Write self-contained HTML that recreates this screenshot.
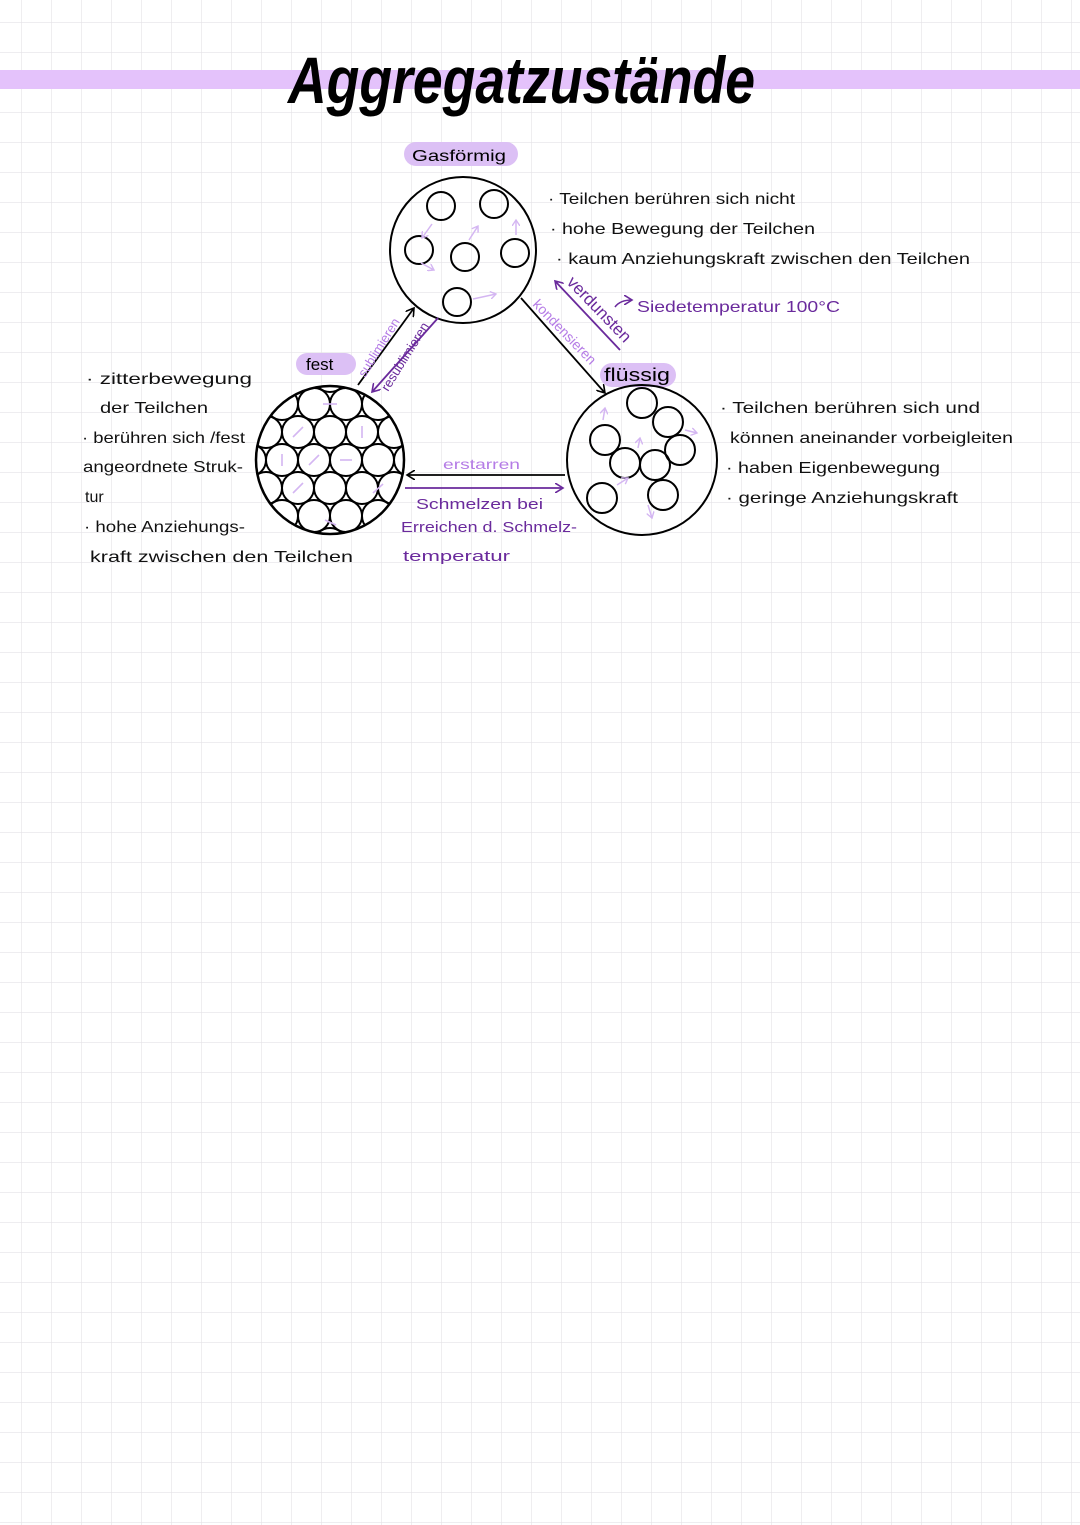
<!DOCTYPE html>
<html><head><meta charset="utf-8"><style>
html,body{margin:0;padding:0;background:#fff}
svg{display:block}
text{font-family:"Liberation Sans",sans-serif}
</style></head><body>
<svg width="1080" height="1525" viewBox="0 0 1080 1525" xmlns="http://www.w3.org/2000/svg">
<defs>
<pattern id="g" x="21" y="22" width="30" height="30" patternUnits="userSpaceOnUse">
<path d="M0 0H30M0 0V30" stroke="#e4e2e6" stroke-width="1.2" fill="none"/>
</pattern>
<marker id="ab" markerWidth="10" markerHeight="10" refX="8" refY="5" orient="auto" markerUnits="userSpaceOnUse"><path d="M0 0L8 5L0 10" fill="none" stroke="#000" stroke-width="1.6"/></marker>
<marker id="ap" markerWidth="10" markerHeight="10" refX="8" refY="5" orient="auto" markerUnits="userSpaceOnUse"><path d="M0 0L8 5L0 10" fill="none" stroke="#6a2a9c" stroke-width="1.6"/></marker>
<marker id="al" markerWidth="8" markerHeight="8" refX="6" refY="4" orient="auto" markerUnits="userSpaceOnUse"><path d="M0 0L6 4L0 8" fill="none" stroke="#d4b6f2" stroke-width="1.4"/></marker>
<clipPath id="cs"><circle cx="330" cy="460" r="74"/></clipPath>
</defs>
<rect width="1080" height="1525" fill="url(#g)"/>
<rect x="0" y="70" width="1080" height="19" fill="#e4c2fb"/>
<text x="288" y="103" font-family="Liberation Serif" font-style="italic" font-weight="bold" font-size="66" textLength="467" lengthAdjust="spacingAndGlyphs">Aggregatzustände</text>

<rect x="404" y="142" width="114" height="24" rx="12" fill="#dcc0f5"/>
<text x="412" y="161" font-size="16" textLength="94" lengthAdjust="spacingAndGlyphs">Gasförmig</text>
<rect x="296" y="353" width="60" height="22" rx="11" fill="#dcc0f5"/>
<text x="306" y="370" font-size="17">fest</text>
<rect x="600" y="363" width="76" height="24" rx="12" fill="#dcc0f5"/>
<text x="604" y="381" font-size="18" textLength="66" lengthAdjust="spacingAndGlyphs">flüssig</text>

<g fill="none" stroke="#000" stroke-width="2">
<circle cx="463" cy="250" r="73"/>
<circle cx="441" cy="206" r="14"/><circle cx="494" cy="204" r="14"/>
<circle cx="419" cy="250" r="14"/><circle cx="465" cy="257" r="14"/>
<circle cx="515" cy="253" r="14"/><circle cx="457" cy="302" r="14"/>
</g>
<g stroke="#d4b6f2" stroke-width="1.5" fill="none" marker-end="url(#al)">
<line x1="432" y1="224" x2="422" y2="238"/><line x1="469" y1="240" x2="478" y2="226"/>
<line x1="516" y1="235" x2="516" y2="220"/><line x1="421" y1="263" x2="434" y2="270"/>
<line x1="473" y1="299" x2="496" y2="294"/>
</g>

<circle cx="330" cy="460" r="74" fill="#fff"/>
<g clip-path="url(#cs)" fill="#fff" stroke="#000" stroke-width="2">
<circle cx="266" cy="376" r="16"/><circle cx="298" cy="376" r="16"/><circle cx="330" cy="376" r="16"/><circle cx="362" cy="376" r="16"/><circle cx="394" cy="376" r="16"/>
<circle cx="250" cy="404" r="16"/><circle cx="282" cy="404" r="16"/><circle cx="314" cy="404" r="16"/><circle cx="346" cy="404" r="16"/><circle cx="378" cy="404" r="16"/><circle cx="410" cy="404" r="16"/>
<circle cx="266" cy="432" r="16"/><circle cx="298" cy="432" r="16"/><circle cx="330" cy="432" r="16"/><circle cx="362" cy="432" r="16"/><circle cx="394" cy="432" r="16"/>
<circle cx="250" cy="460" r="16"/><circle cx="282" cy="460" r="16"/><circle cx="314" cy="460" r="16"/><circle cx="346" cy="460" r="16"/><circle cx="378" cy="460" r="16"/><circle cx="410" cy="460" r="16"/>
<circle cx="266" cy="488" r="16"/><circle cx="298" cy="488" r="16"/><circle cx="330" cy="488" r="16"/><circle cx="362" cy="488" r="16"/><circle cx="394" cy="488" r="16"/>
<circle cx="250" cy="516" r="16"/><circle cx="282" cy="516" r="16"/><circle cx="314" cy="516" r="16"/><circle cx="346" cy="516" r="16"/><circle cx="378" cy="516" r="16"/><circle cx="410" cy="516" r="16"/>
<circle cx="266" cy="544" r="16"/><circle cx="298" cy="544" r="16"/><circle cx="330" cy="544" r="16"/><circle cx="362" cy="544" r="16"/><circle cx="394" cy="544" r="16"/>
</g>
<g stroke="#d4b6f2" stroke-width="1.6">
<line x1="293" y1="437" x2="303" y2="427"/><line x1="323" y1="404" x2="337" y2="404"/><line x1="362" y1="426" x2="362" y2="438"/>
<line x1="309" y1="465" x2="319" y2="455"/><line x1="282" y1="454" x2="282" y2="466"/><line x1="373" y1="493" x2="383" y2="484"/>
<line x1="293" y1="493" x2="303" y2="483"/><line x1="340" y1="460" x2="352" y2="460"/><line x1="325" y1="520" x2="336" y2="525"/>
</g>
<circle cx="330" cy="460" r="74" fill="none" stroke="#000" stroke-width="2.5"/>

<g fill="none" stroke="#000" stroke-width="2">
<circle cx="642" cy="460" r="75"/>
<circle cx="642" cy="403" r="15"/><circle cx="668" cy="422" r="15"/><circle cx="605" cy="440" r="15"/>
<circle cx="680" cy="450" r="15"/><circle cx="625" cy="463" r="15"/><circle cx="655" cy="465" r="15"/>
<circle cx="602" cy="498" r="15"/><circle cx="663" cy="495" r="15"/>
</g>
<g stroke="#d4b6f2" stroke-width="1.5" fill="none" marker-end="url(#al)">
<line x1="603" y1="420" x2="605" y2="408"/><line x1="685" y1="430" x2="697" y2="433"/>
<line x1="638" y1="448" x2="640" y2="438"/><line x1="617" y1="485" x2="628" y2="478"/>
<line x1="648" y1="505" x2="652" y2="518"/>
</g>

<line x1="358" y1="385" x2="414" y2="308" stroke="#000" stroke-width="1.8" marker-end="url(#ab)"/>
<line x1="438" y1="318" x2="372" y2="392" stroke="#6a2a9c" stroke-width="1.8" marker-end="url(#ap)"/>
<line x1="521" y1="298" x2="605" y2="393" stroke="#000" stroke-width="1.8" marker-end="url(#ab)"/>
<line x1="620" y1="350" x2="555" y2="281" stroke="#6a2a9c" stroke-width="1.8" marker-end="url(#ap)"/>
<line x1="565" y1="475" x2="407" y2="475" stroke="#000" stroke-width="1.8" marker-end="url(#ab)"/>
<line x1="405" y1="488" x2="563" y2="488" stroke="#6a2a9c" stroke-width="1.8" marker-end="url(#ap)"/>
<path d="M615 307 Q620 300 632 300" fill="none" stroke="#6a2a9c" stroke-width="1.6" marker-end="url(#ap)"/>

<text transform="translate(365,378) rotate(-58)" font-size="13" fill="#b57ce6">sublimieren</text>
<text transform="translate(388,392) rotate(-58)" font-size="13" fill="#6a2a9c">resublimieren</text>
<text transform="translate(532,305) rotate(46)" font-size="14" fill="#b57ce6">kondensieren</text>
<text transform="translate(566,283) rotate(46)" font-size="17" fill="#6a2a9c">verdunsten</text>
<text x="637" y="312" font-size="16" fill="#6a2a9c" textLength="203" lengthAdjust="spacingAndGlyphs">Siedetemperatur 100°C</text>
<text x="443" y="469" font-size="14" fill="#b57ce6" textLength="77" lengthAdjust="spacingAndGlyphs">erstarren</text>
<g font-size="15" fill="#6a2a9c">
<text x="416" y="509" textLength="127" lengthAdjust="spacingAndGlyphs">Schmelzen bei</text>
<text x="401" y="532" textLength="176" lengthAdjust="spacingAndGlyphs">Erreichen d. Schmelz-</text>
<text x="403" y="561" textLength="107" lengthAdjust="spacingAndGlyphs">temperatur</text>
</g>

<g font-size="16" fill="#111" lengthAdjust="spacingAndGlyphs">
<text x="548" y="204" textLength="247" lengthAdjust="spacingAndGlyphs">· Teilchen berühren sich nicht</text>
<text x="550" y="234" textLength="265" lengthAdjust="spacingAndGlyphs">· hohe Bewegung der Teilchen</text>
<text x="556" y="264" textLength="414" lengthAdjust="spacingAndGlyphs">· kaum Anziehungskraft zwischen den Teilchen</text>
<text x="720" y="413" textLength="260" lengthAdjust="spacingAndGlyphs">· Teilchen berühren sich und</text>
<text x="730" y="443" textLength="283" lengthAdjust="spacingAndGlyphs">können aneinander vorbeigleiten</text>
<text x="726" y="473" textLength="214" lengthAdjust="spacingAndGlyphs">· haben Eigenbewegung</text>
<text x="726" y="503" textLength="232" lengthAdjust="spacingAndGlyphs">· geringe Anziehungskraft</text>
<text x="86" y="384" textLength="166" lengthAdjust="spacingAndGlyphs">·  zitterbewegung</text>
<text x="100" y="413" textLength="108" lengthAdjust="spacingAndGlyphs">der Teilchen</text>
<text x="82" y="443" textLength="163" lengthAdjust="spacingAndGlyphs">· berühren sich /fest</text>
<text x="83" y="472" textLength="160" lengthAdjust="spacingAndGlyphs">angeordnete Struk-</text>
<text x="85" y="502">tur</text>
<text x="84" y="532" textLength="161" lengthAdjust="spacingAndGlyphs">· hohe Anziehungs-</text>
<text x="90" y="562" textLength="263" lengthAdjust="spacingAndGlyphs">kraft zwischen den Teilchen</text>
</g>
</svg>
</body></html>
